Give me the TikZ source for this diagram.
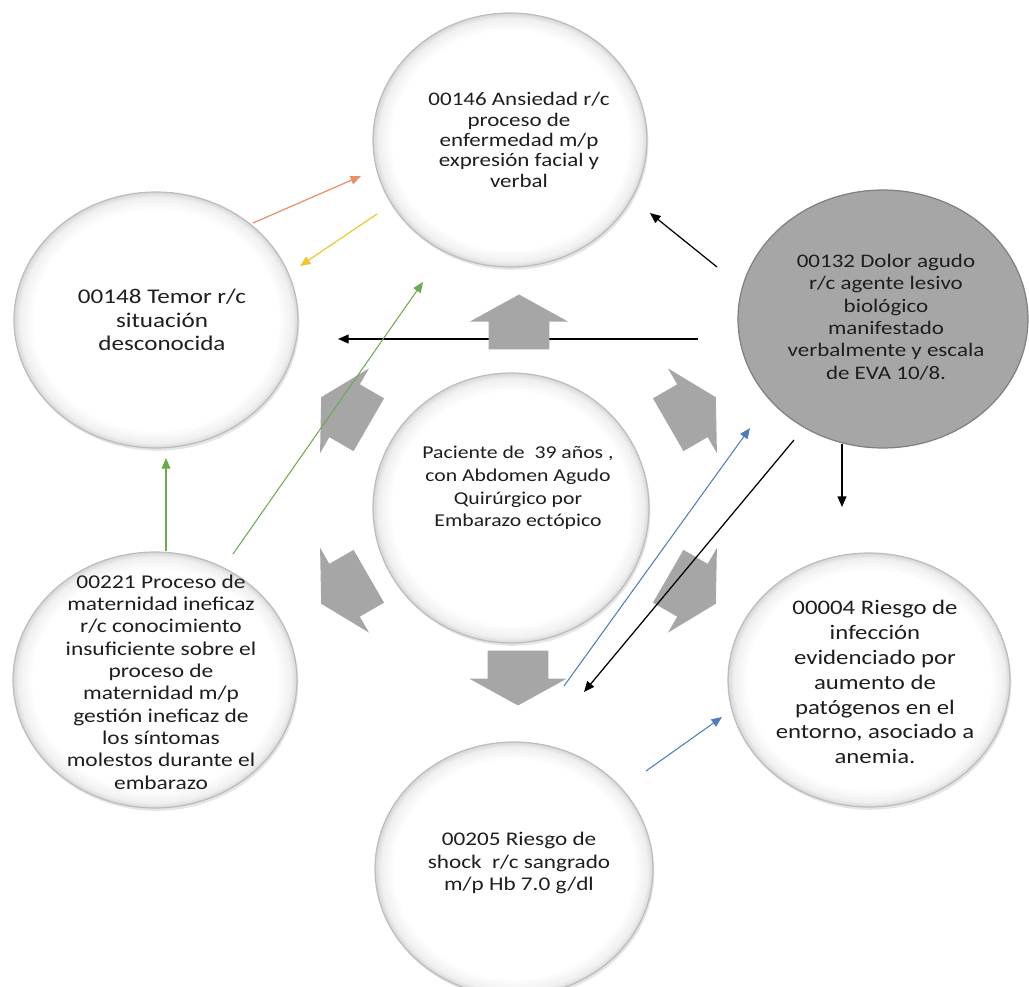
\documentclass[tikz,border=0pt]{standalone}
\usepackage{fontspec}
\setmainfont{Carlito}[FakeStretch=1.2]
\usetikzlibrary{arrows.meta,shapes.geometric}

% white discs: flat centre, thin soft grey rim
\pgfdeclareradialshading{rim}{\pgfpoint{0bp}{0bp}}{%
  color(0bp)=(white); color(21.5bp)=(white); color(24bp)=(black!6);
  color(25bp)=(black!16); color(50bp)=(black!16)}

\definecolor{blockgray}{RGB}{166,166,166}
\definecolor{darkfill}{RGB}{166,166,166}
\definecolor{cOrange}{RGB}{232,145,100}
\definecolor{cYellow}{RGB}{238,200,50}
\definecolor{cGreen}{RGB}{112,168,80}
\definecolor{cBlue}{RGB}{80,125,185}
\definecolor{txtc}{RGB}{30,30,30}

\tikzset{
  bubble/.style={ellipse, inner sep=0pt, draw=black!26, line width=0.7pt, shading=rim,
    preaction={fill=black!10, transform canvas={shift={(0.8pt,-1.6pt)}}}},
  darkbubble/.style={ellipse, inner sep=0pt, draw=black!50, line width=0.7pt, fill=darkfill},
  label/.style={align=center, text=txtc, inner sep=0pt},
  link/.style={line width=0.7pt, -{Triangle[length=6pt,width=5pt]}},
  blockarrow/.pic={
    \fill[blockgray] (-0.55cm,-0.61cm) -- (0.01cm,-0.61cm) -- (0.01cm,-0.98cm)
      -- (0.55cm,0cm) -- (0.01cm,0.98cm) -- (0.01cm,0.61cm) -- (-0.55cm,0.61cm) -- cycle;
  }
}

\begin{document}
\begin{tikzpicture}[x=0.02cm,y=-0.02cm]
\useasboundingbox (0,0) rectangle (1029,987);

% ---- discs ----
\node[bubble, minimum width=5.48cm, minimum height=5.08cm] (anx) at (510,140) {};
\node[darkbubble, minimum width=5.8cm, minimum height=5.16cm] (dol) at (883,319) {};
\node[bubble, minimum width=5.68cm, minimum height=5.12cm] (tem) at (156,320) {};
\node[bubble, minimum width=5.52cm, minimum height=5.4cm] (ctr) at (511,508) {};
\node[bubble, minimum width=5.68cm, minimum height=5.12cm] (mat) at (155,680) {};
\node[bubble, minimum width=5.64cm, minimum height=5.08cm] (inf) at (869,680) {};
\node[bubble, minimum width=5.56cm, minimum height=5.08cm] (sho) at (514,869) {};

% ---- texts ----
\node[label, font={\fontsize{10.9}{11.6}\selectfont}] (anx-t) at (519,140)
  {00146 Ansiedad r/c\\proceso de\\enfermedad m/p\\expresión facial y\\verbal};
\node[label, font={\fontsize{10.9}{12.7}\selectfont}] (dol-t) at (886,317)
  {00132 Dolor agudo\\r/c agente lesivo\\biológico\\manifestado\\verbalmente y escala\\de EVA 10/8.};
\node[label, font={\fontsize{11.9}{13.2}\selectfont}] (tem-t) at (162,320)
  {00148 Temor r/c\\situación\\desconocida};
\node[label, font={\fontsize{10.3}{12.9}\selectfont}] (ctr-t) at (518,488)
  {Paciente de\ \ 39 años ,\\con Abdomen Agudo\\Quirúrgico por\\Embarazo ectópico};
\node[label, font={\fontsize{11.1}{12.7}\selectfont}] (mat-t) at (161,682)
  {00221 Proceso de\\maternidad ineficaz\\r/c conocimiento\\insuficiente sobre el\\proceso de\\maternidad m/p\\gestión ineficaz de\\los síntomas\\molestos durante el\\embarazo};
\node[label, font={\fontsize{11.75}{14.2}\selectfont}] (inf-t) at (875,682)
  {00004 Riesgo de\\infección\\evidenciado por\\aumento de\\patógenos en el\\entorno, asociado a\\anemia.};
\node[label, font={\fontsize{11}{12.8}\selectfont}] (sho-t) at (519,863)
  {00205 Riesgo de\\shock\ \ r/c sangrado\\m/p Hb 7.0 g/dl};

% ---- connector end points ----
\coordinate (o1) at (253,223);  \coordinate (o2) at (361,176);
\coordinate (y1) at (377,214);  \coordinate (y2) at (300,266);
\coordinate (g1) at (233,554);  \coordinate (g2) at (423,282);
\coordinate (g3) at (166,551);  \coordinate (g4) at (166,458);
\coordinate (k1) at (717,267);  \coordinate (k2) at (650,213);
\coordinate (k3) at (698,339);  \coordinate (k4) at (338,339);
\coordinate (k5) at (842,444);  \coordinate (k6) at (842,507);
\coordinate (k7) at (794,440);  \coordinate (k8) at (584,692);
\coordinate (b1) at (564,686);  \coordinate (b2) at (750,428);
\coordinate (b3) at (646,771);  \coordinate (b4) at (722,717);

% pain -> fear, passes beneath the upward block arrow
\draw[link, black] (k3) -- (k4);

% ---- block arrows radiating from the central disc ----
\pic[rotate=90]  at (519,322) {blockarrow};
\pic[rotate=270] at (518,678) {blockarrow};
\pic[rotate=150] at (345,411) {blockarrow};
\pic[rotate=30]  at (692,411) {blockarrow};
\pic[rotate=210] at (345,590) {blockarrow};
\pic[rotate=330] at (692,590) {blockarrow};

% ---- remaining connectors ----
\draw[link, cOrange] (o1) -- (o2);
\draw[link, cYellow] (y1) -- (y2);
\draw[link, cGreen, line width=0.6pt] (g1) -- (g2);
\draw[link, cGreen, line width=0.6pt] (g3) -- (g4);
\draw[link, black] (k1) -- (k2);
\draw[link, black] (k5) -- (k6);
\draw[link, black] (k7) -- (k8);
\draw[link, cBlue, line width=0.6pt] (b1) -- (b2);
\draw[link, cBlue, line width=0.6pt] (b3) -- (b4);
\end{tikzpicture}
\end{document}
